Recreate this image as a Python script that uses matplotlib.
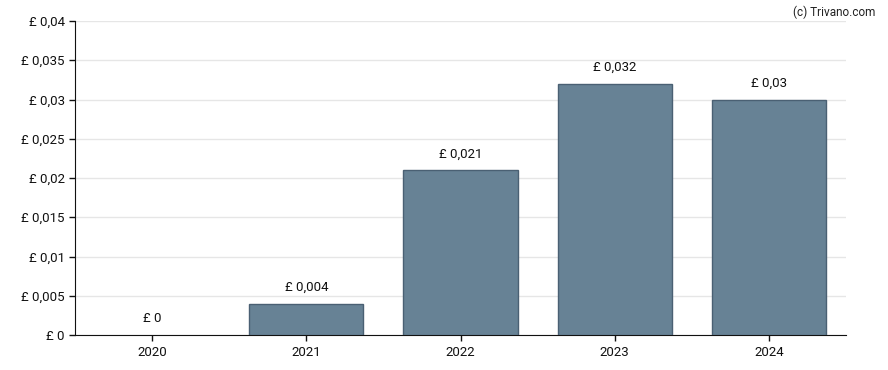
import matplotlib
matplotlib.use('Agg')
import matplotlib.pyplot as plt

plt.rcParams['font.family'] = ['Roboto', 'DejaVu Sans']

years = ['2020', '2021', '2022', '2023', '2024']
dividends = [0, 0.004, 0.021, 0.032, 0.03]
labels = ['£ 0', '£ 0,004', '£ 0,021', '£ 0,032', '£ 0,03']
yticks = [0, 0.005, 0.01, 0.015, 0.02, 0.025, 0.03, 0.035, 0.04]
ytick_labels = ['£ 0', '£ 0,005', '£ 0,01', '£ 0,015', '£ 0,02', '£ 0,025', '£ 0,03', '£ 0,035', '£ 0,04']

fig = plt.figure(figsize=(8.88, 3.70), dpi=100)
ax = fig.add_axes([0.0845, 0.0946, 0.8682, 0.8486])

x = range(len(years))
bars = ax.bar(x, dividends, width=0.74, color='#678295', edgecolor='#4a6073', linewidth=1, zorder=3)
for b, v in zip(bars, dividends):
    if v == 0:
        b.set_linewidth(0)

for i, (v, lab) in enumerate(zip(dividends, labels)):
    ax.annotate(lab, (i, v), xytext=(0, 7), textcoords='offset points',
                ha='center', va='bottom', fontsize=9.5, color='#111111')

ax.set_xlim(-0.5, 4.5)
ax.set_ylim(0, 0.04)
ax.set_xticks(list(x))
ax.set_xticklabels(years)
ax.set_yticks(yticks)
ax.set_yticklabels(ytick_labels)
ax.tick_params(axis='both', labelsize=9.5, colors='#111111', length=4, width=1)
ax.tick_params(axis='x', pad=4)
ax.grid(axis='y', color='#e6e6e6', linewidth=1, zorder=0)
ax.set_axisbelow(True)

for s in ['top', 'right']:
    ax.spines[s].set_visible(False)
ax.spines['left'].set_color('#111111')
ax.spines['bottom'].set_color('#111111')

fig.text(0.986, 0.985, '(c) Trivano.com', ha='right', va='top', fontsize=8.5, color='#222222')

fig.savefig('out.png', dpi=100)
